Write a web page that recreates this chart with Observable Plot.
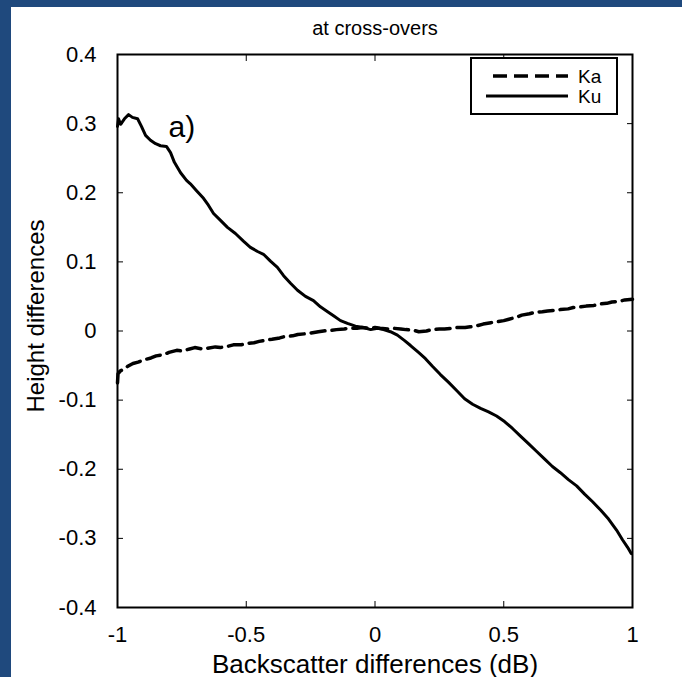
<!DOCTYPE html>
<html><head><meta charset="utf-8">
<script src="https://cdn.jsdelivr.net/npm/d3@7"></script>
<script src="https://cdn.jsdelivr.net/npm/@observablehq/plot@0.6"></script>
<style>
html,body{margin:0;padding:0;background:#fff;}
#wrap{position:relative;width:682px;height:677px;overflow:hidden;background:#fff;}
.bl{position:absolute;left:0;top:0;width:11px;height:677px;background:#1f497d;}
.bt{position:absolute;left:0;top:0;width:682px;height:7px;background:#1f497d;}
#legend{position:absolute;left:470px;top:57px;width:144px;height:54px;border:2px solid #000;background:#fff;
  font-family:"Liberation Sans",Arial,sans-serif;color:#000;}
#legend svg{position:absolute;left:0;top:0;}
</style></head>
<body><div id="wrap"><div id="chart"></div><div id="legend"></div><div class="bl"></div><div class="bt"></div></div>
<script>
const title = "at cross-overs";
const xLabel = "Backscatter differences (dB)";
const yLabel = "Height differences";
const xTicks = [-1, -0.5, 0, 0.5, 1];
const xTickLabels = ["-1", "-0.5", "0", "0.5", "1"];
const yTicks = [-0.4, -0.3, -0.2, -0.1, 0, 0.1, 0.2, 0.3, 0.4];
const yTickLabels = ["-0.4", "-0.3", "-0.2", "-0.1", "0", "0.1", "0.2", "0.3", "0.4"];
const seriesNames = ["Ka", "Ku"];
const seriesDash = ["14,7", null];

const kaX = [-1, -0.998, -0.99, -0.975, -0.96, -0.94, -0.92, -0.9, -0.87, -0.85, -0.82, -0.8, -0.77, -0.75, -0.72, -0.7, -0.67, -0.65, -0.62, -0.6, -0.57, -0.55, -0.52, -0.5, -0.47, -0.45, -0.42, -0.4, -0.37, -0.35, -0.32, -0.3, -0.27, -0.25, -0.22, -0.2, -0.17, -0.15, -0.12, -0.1, -0.07, -0.05, -0.02, 0, 0.02, 0.05, 0.07, 0.1, 0.12, 0.15, 0.17, 0.2, 0.22, 0.25, 0.27, 0.3, 0.32, 0.35, 0.37, 0.4, 0.42, 0.45, 0.47, 0.5, 0.52, 0.55, 0.57, 0.6, 0.62, 0.65, 0.67, 0.7, 0.72, 0.75, 0.77, 0.8, 0.82, 0.85, 0.87, 0.9, 0.92, 0.95, 0.97, 1];
const kaY = [-0.075, -0.062, -0.058, -0.055, -0.051, -0.047, -0.045, -0.042, -0.039, -0.036, -0.034, -0.031, -0.028, -0.029, -0.026, -0.024, -0.026, -0.025, -0.023, -0.024, -0.022, -0.020, -0.020, -0.018, -0.017, -0.015, -0.013, -0.012, -0.010, -0.008, -0.007, -0.005, -0.004, -0.003, -0.001, 0.000, 0.001, 0.002, 0.003, 0.004, 0.004, 0.005, 0.004, 0.005, 0.004, 0.003, 0.004, 0.003, 0.002, 0.001, -0.001, 0.000, 0.002, 0.003, 0.003, 0.004, 0.005, 0.005, 0.006, 0.008, 0.010, 0.012, 0.013, 0.015, 0.017, 0.020, 0.023, 0.025, 0.027, 0.028, 0.029, 0.030, 0.031, 0.032, 0.034, 0.035, 0.036, 0.037, 0.039, 0.040, 0.042, 0.043, 0.045, 0.046];

const kuX = [-1, -0.996, -0.988, -0.973, -0.957, -0.942, -0.922, -0.907, -0.891, -0.872, -0.852, -0.833, -0.810, -0.794, -0.779, -0.755, -0.732, -0.717, -0.693, -0.666, -0.647, -0.627, -0.600, -0.573, -0.542, -0.511, -0.484, -0.456, -0.433, -0.406, -0.379, -0.355, -0.328, -0.301, -0.270, -0.239, -0.212, -0.184, -0.161, -0.134, -0.107, -0.076, -0.045, -0.017, 0.010, 0.033, 0.060, 0.087, 0.115, 0.138, 0.169, 0.196, 0.223, 0.254, 0.285, 0.317, 0.348, 0.379, 0.410, 0.441, 0.472, 0.503, 0.534, 0.565, 0.596, 0.627, 0.658, 0.689, 0.720, 0.751, 0.783, 0.814, 0.845, 0.876, 0.907, 0.938, 0.961, 0.981, 0.995];
const kuY = [0.296, 0.307, 0.299, 0.307, 0.313, 0.309, 0.307, 0.296, 0.283, 0.276, 0.271, 0.268, 0.267, 0.258, 0.244, 0.229, 0.218, 0.213, 0.203, 0.192, 0.182, 0.170, 0.160, 0.150, 0.141, 0.130, 0.121, 0.115, 0.111, 0.101, 0.092, 0.080, 0.069, 0.059, 0.050, 0.044, 0.035, 0.028, 0.022, 0.015, 0.011, 0.007, 0.005, 0.002, 0.004, 0.002, -0.001, -0.006, -0.014, -0.021, -0.031, -0.040, -0.051, -0.063, -0.074, -0.086, -0.098, -0.106, -0.112, -0.117, -0.123, -0.131, -0.141, -0.152, -0.163, -0.174, -0.185, -0.196, -0.205, -0.215, -0.224, -0.236, -0.247, -0.259, -0.272, -0.288, -0.302, -0.313, -0.322];

const annotationText = ["a)"];
const annotationX = [-0.802];
const annotationY = [0.28];

const FONT = "'Liberation Sans', Arial, Helvetica, sans-serif";
const toRows = (xs, ys, s) => xs.slice(0, Math.min(xs.length, ys.length)).map((x, i) => ({series: s, x, y: ys[i]}));
const ka = toRows(kaX, kaY, seriesNames[0]);
const ku = toRows(kuX, kuY, seriesNames[1]);
const notes = annotationText.map((t, i) => ({label: t, x: annotationX[i], y: annotationY[i]}));
const fmt = (ticks, labels) => d => labels[ticks.indexOf(d)];

const chart = Plot.plot({
  width: 682, height: 677,
  marginLeft: 117, marginRight: 50, marginTop: 54, marginBottom: 70,
  x: {domain: [-1, 1]},
  y: {domain: [-0.4, 0.4]},
  style: {background: "white", color: "black", fontFamily: FONT, overflow: "visible"},
  marks: [
    Plot.line(ka, {x: "x", y: "y", stroke: "black", strokeWidth: 3.5, strokeDasharray: seriesDash[0]}),
    Plot.line(ku, {x: "x", y: "y", stroke: "black", strokeWidth: 3}),
    Plot.frame({stroke: "black", strokeWidth: 2}),
    Plot.axisX({anchor: "bottom", ticks: xTicks, tickSize: -6, tickPadding: 25, tickFormat: fmt(xTicks, xTickLabels), fontSize: 22, label: null}),
    Plot.axisX({anchor: "top", ticks: xTicks, tickSize: -6, tickFormat: () => "", label: null}),
    Plot.axisY({anchor: "left", ticks: yTicks, tickSize: -6, tickPadding: 27, tickFormat: fmt(yTicks, yTickLabels), fontSize: 22, label: null}),
    Plot.axisY({anchor: "right", ticks: yTicks, tickSize: -6, tickFormat: () => "", label: null}),
    Plot.text([title], {frameAnchor: "top", dy: -20, lineAnchor: "bottom", fontSize: 20, fill: "black"}),
    Plot.text([xLabel], {frameAnchor: "bottom", dy: 65, lineAnchor: "bottom", fontSize: 26, fill: "black"}),
    Plot.text([yLabel], {frameAnchor: "left", dx: -74, dy: -15, rotate: -90, textAnchor: "middle", lineAnchor: "bottom", fontSize: 24, fill: "black"}),
    Plot.text(notes, {x: "x", y: "y", text: "label", textAnchor: "start", lineAnchor: "bottom", fontSize: 30, fill: "black"})
  ]
});
document.getElementById("chart").appendChild(chart);

// legend
const leg = d3.select("#legend");
const rowY = [17, 37];
const svg = leg.append("svg").attr("width", 144).attr("height", 54);
seriesNames.forEach((name, i) => {
  svg.append("line")
    .attr("x1", i === 0 ? 21 : 14).attr("x2", 96)
    .attr("y1", rowY[i]).attr("y2", rowY[i])
    .attr("stroke", "black").attr("stroke-width", i === 0 ? 3.5 : 3)
    .attr("stroke-dasharray", seriesDash[i]);
  svg.append("text")
    .attr("x", 106).attr("y", rowY[i]).attr("dy", "0.35em")
    .attr("font-family", FONT).attr("font-size", 19)
    .text(name);
});
</script>
</body></html>
